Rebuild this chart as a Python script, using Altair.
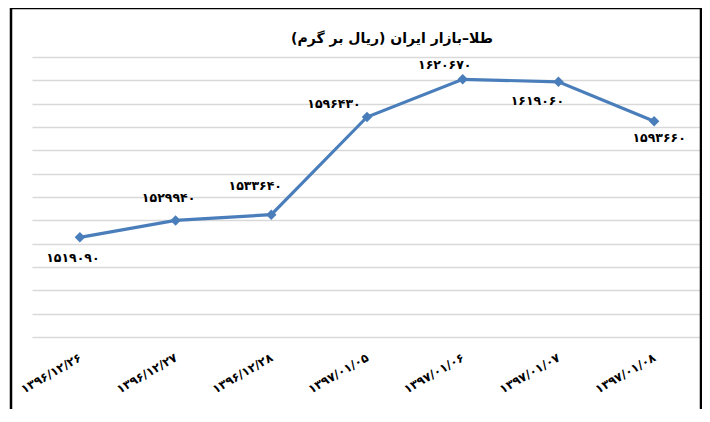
import altair as alt
import pandas as pd

# ---- data ----
dates = ["۱۳۹۶/۱۲/۲۶", "۱۳۹۶/۱۲/۲۷", "۱۳۹۶/۱۲/۲۸", "۱۳۹۷/۰۱/۰۵",
         "۱۳۹۷/۰۱/۰۶", "۱۳۹۷/۰۱/۰۷", "۱۳۹۷/۰۱/۰۸"]
values = [1519090, 1529940, 1533640, 1596430, 1620670, 1619060, 1593660]
title_text = "\u200fطلا–بازار ایران (ریال بر گرم)\u200f"

fa_digits = str.maketrans("0123456789", "۰۱۲۳۴۵۶۷۸۹")
labels = [str(v).translate(fa_digits) for v in values]

df = pd.DataFrame({"date": dates, "value": values, "label": labels,
                   "idx": list(range(len(dates)))})

# ---- style ----
FONT = "DejaVu Sans"
BLUE = "#4A7EBB"
label_offsets = [(-7, 21), (-7, -22), (-16, -29), (-33, -13),
                 (-18, -14), (-21, 19), (5, 17)]
grid_vals = list(range(1455000, 1635001, 15000))

x = alt.X("date:N", sort=dates, title=None,
          axis=alt.Axis(labelAngle=-30, labelAlign="right", labelBaseline="middle",
                        labelFont=FONT, labelFontWeight="bold", labelFontSize=12,
                        labelColor="black", ticks=False, domain=False,
                        labelPadding=19, grid=False))
y = alt.Y("value:Q", title=None,
          scale=alt.Scale(domain=[1455000, 1635000], nice=False, zero=False),
          axis=alt.Axis(values=grid_vals, labels=False, ticks=False, domain=False,
                        grid=True, gridColor="#d9d9d9", gridWidth=1.5))

base = alt.Chart(df)

line = base.mark_line(color=BLUE, strokeWidth=3.2).encode(x=x, y=y)
pts = base.mark_point(shape="diamond", filled=True, size=110, color=BLUE,
                      opacity=1).encode(x=x, y=y)

texts = []
for i, (dx, dy) in enumerate(label_offsets):
    texts.append(
        base.transform_filter(alt.datum.idx == i)
        .mark_text(dx=dx, dy=dy, font=FONT, fontWeight="bold", fontSize=12.5,
                   color="black", align="center", baseline="middle")
        .encode(x=x, y=y, text="label:N")
    )

one = alt.Data(values=[{"a": 1}])
frame = alt.Chart(one).mark_rect(
    fillOpacity=0, stroke="black", strokeWidth=2.5, clip=False
).encode(x=alt.value(-21), x2=alt.value(669), y=alt.value(-49), y2=alt.value(360))

title = alt.Chart(one).mark_text(
    text=title_text, font=FONT, fontSize=14, fontWeight="bold", color="black",
    align="center", baseline="middle"
).encode(x=alt.value(360), y=alt.value(-18))

chart = alt.layer(line, pts, *texts, frame, title).properties(
    width=670, height=280,
    autosize=alt.AutoSizeParams(type="none"),
    padding={"left": 24, "top": 49, "right": 0, "bottom": 72},
).configure_view(stroke=None)

chart.save("out.html", embed_options={"renderer": "svg", "actions": False})
